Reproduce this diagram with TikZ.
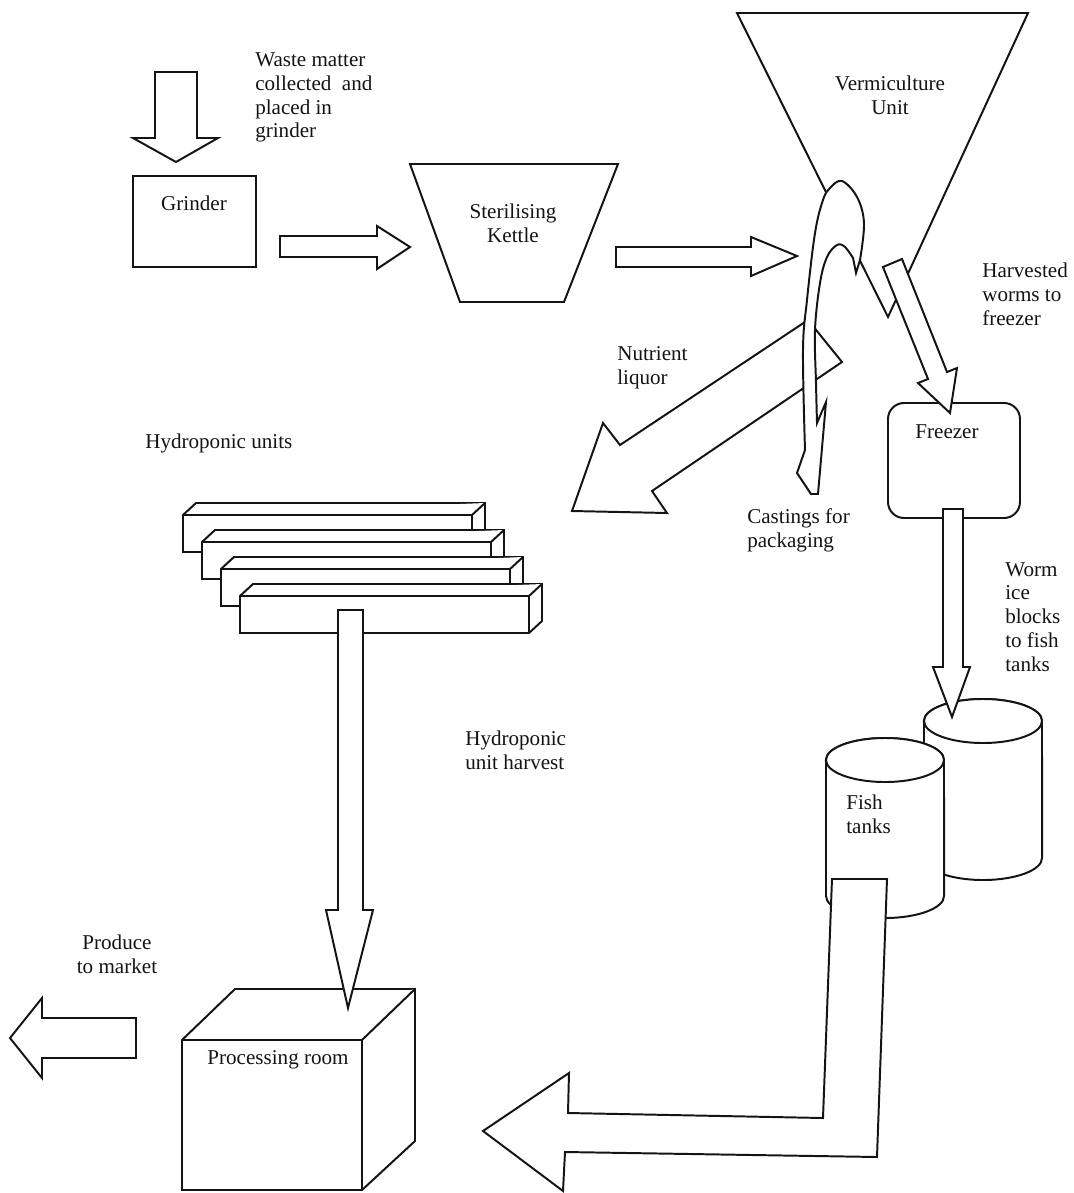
\documentclass[tikz,border=0pt]{standalone}
\usepackage{fontspec}
\setmainfont{Liberation Serif}
\usepackage{tikz}
\definecolor{ink}{RGB}{20,20,20}
\tikzset{
  unit/.style={draw=ink, fill=white, line width=1.4pt, line join=miter},
  blockarrow/.style={draw=ink, fill=white, line width=1.4pt, line join=miter},
  hydrobar/.style={draw=ink, fill=white, line width=1.4pt, line join=miter},
  lbl/.style={font=\fontsize{15}{17}\selectfont, inner sep=0pt, align=left, anchor=west, text=ink},
  ctr/.style={font=\fontsize{15}{17}\selectfont, inner sep=0pt, align=center, text=ink}
}

\begin{document}
\begin{tikzpicture}[x=0.025cm, y=-0.025cm]
  \fill[white] (0,0) rectangle (1074,1193);
  \useasboundingbox (0,0) rectangle (1074,1193);

  % grinder and kettle
  \draw[blockarrow] (155,72) -- (197,72) -- (197,138) -- (218,138) -- (176,162) -- (133,138) -- (155,138) -- cycle;
  \draw[unit] (133,176) rectangle (256,267);
  \node[ctr] (grinder) at (194,203) {Grinder};
  \node[lbl] (waste) at (255,97.5) {Waste matter\\collected\ \ and\\placed in\\grinder};
  \draw[blockarrow] (280,236) -- (377,236) -- (377,226) -- (410,247) -- (377,269) -- (377,257) -- (280,257) -- cycle;
  \draw[unit] (410,164) -- (618,164) -- (564,302) -- (460,302) -- cycle;
  \node[ctr] (kettle) at (513,223) {Sterilising\\Kettle};
  \draw[blockarrow] (616,247) -- (751,247) -- (751,237) -- (797,256) -- (751,276) -- (751,267) -- (616,267) -- cycle;

  % vermiculture unit
  \draw[unit] (737,13) -- (1028,13) -- (888,317) -- cycle;
  \node[ctr] (vermi) at (890,95) {Vermiculture\\Unit};
  \draw[blockarrow] (808,320) -- (620,445) -- (603,423) -- (572,511) -- (667,513) -- (652,491) -- (842,362) -- cycle;
  \node[lbl] (liquor) at (617,368) {Nutrient\\liquor};
  \draw[blockarrow] (860,260)
    -- plot[smooth, tension=0.6] coordinates {(860,260) (864,223) (857,197) (842,181) (830,188) (823,200) (815,233) (807,300) (803,350) (805,450)}
    -- (797,473) -- (811,494) -- (818,494) -- (826,402) -- (817,423)
    -- plot[smooth, tension=0.6] coordinates {(817,423) (816,383) (815,330) (820,283) (827,257) (837,245) (845,247) (853,258)}
    -- (856,273) -- cycle;
  \node[lbl] (castings) at (747,530) {Castings for\\packaging};

  % freezer
  \draw[unit, rounded corners=0.4cm] (888,403) rectangle (1020,518);
  \node[ctr] (freezer) at (947,432) {Freezer};
  \draw[blockarrow] (883,267) -- (902,259) -- (947,372) -- (957,368) -- (950,413) -- (918,383) -- (928,379) -- cycle;
  \node[lbl] (harvested) at (982,294) {Harvested\\worms to\\freezer};

  % fish tanks
  \draw[unit] (924,721) -- (924,858) arc[start angle=180, end angle=360, x radius=1.475cm, y radius=0.55cm]
    -- (1042,721) arc[start angle=0, end angle=180, x radius=1.475cm, y radius=0.55cm] -- cycle;
  \draw[unit] (983,721) ellipse[x radius=1.475cm, y radius=0.55cm];
  \draw[unit] (826,760) -- (826,896) arc[start angle=180, end angle=360, x radius=1.475cm, y radius=0.55cm]
    -- (944,760) arc[start angle=0, end angle=180, x radius=1.475cm, y radius=0.55cm] -- cycle;
  \draw[unit] (885,760) ellipse[x radius=1.475cm, y radius=0.55cm];
  \node[lbl] (fish) at (846,814) {Fish\\tanks};
  \draw[blockarrow] (943,509) -- (963,509) -- (963,667) -- (970,667) -- (952,717) -- (933,667) -- (943,667) -- cycle;
  \node[lbl] (iceblocks) at (1005,617) {Worm\\ice\\blocks\\to fish\\tanks};
  \draw[blockarrow] (832,879) -- (887,879) -- (877,1157) -- (565,1152) -- (563,1191) -- (483,1131)
    -- (569,1073) -- (568,1113) -- (823,1118) -- cycle;

  % hydroponic units
  \node[lbl] (hydro) at (145,443) {Hydroponic units};
  \foreach \i in {0,...,3} {
    \coordinate (b\i) at ({183+19*\i},{515+27*\i});
    \draw[hydrobar] (b\i) -- ++(13,-12) -- ++(289,0) -- ++(0,37) -- ++(-13,12) -- ++(-289,0) -- cycle;
    \draw[hydrobar] (b\i) -- ++(289,0) coordinate (c\i) -- ++(13,-12) (c\i) -- ++(0,37);
  }

  % processing room
  \draw[unit] (182,1040) -- (235,989) -- (415,989) -- (415,1141) -- (362,1190) -- (182,1190) -- cycle;
  \draw[unit] (182,1040) -- (362,1040) -- (415,989) (362,1040) -- (362,1190);
  \node[ctr] (processing) at (278,1060) {Processing room};
  \draw[blockarrow] (338,610) -- (363,610) -- (363,910) -- (373,910) -- (348,1008) -- (326,910) -- (338,910) -- cycle;
  \node[lbl] (hharvest) at (465,750) {Hydroponic\\unit harvest};
  \draw[blockarrow] (136,1018) -- (42,1018) -- (42,998) -- (10,1038) -- (42,1078) -- (42,1058) -- (136,1058) -- cycle;
  \node[ctr] (produce) at (117,954) {Produce\\to market};
\end{tikzpicture}
\end{document}
